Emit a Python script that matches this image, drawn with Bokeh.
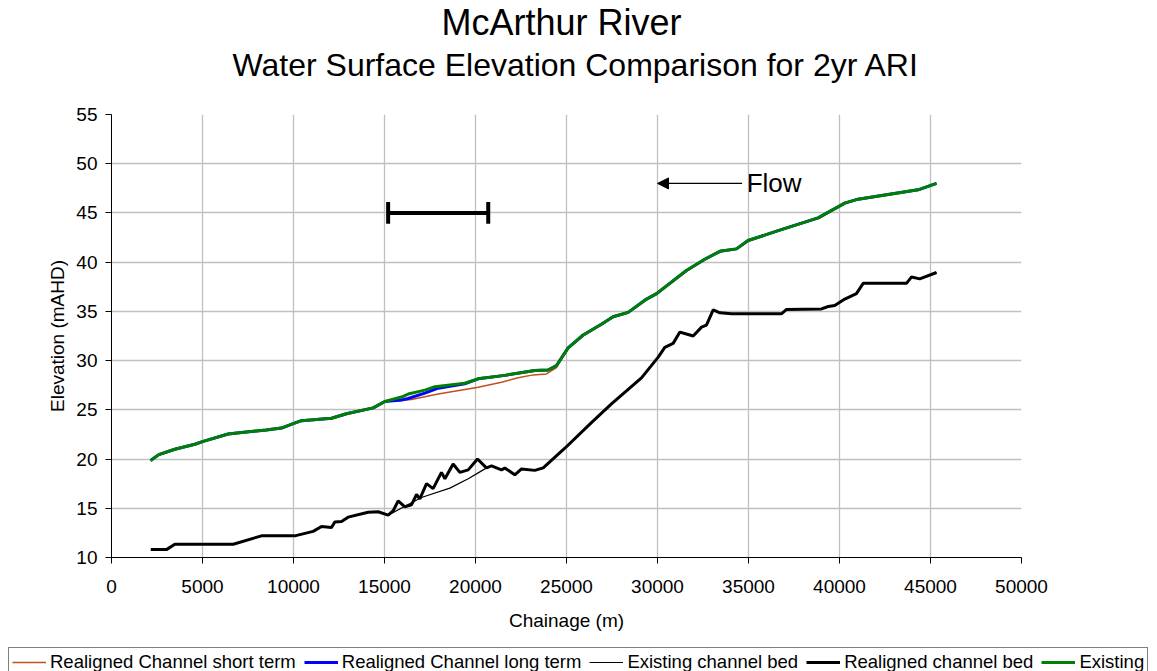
from bokeh.plotting import figure
from bokeh.layouts import column
from bokeh.models import (Range1d, FixedTicker, Title, Legend, LegendItem, Arrow,
                          NormalHead, Label)
from bokeh.embed import file_html
from bokeh.resources import INLINE

# ---------------- data ----------------
existing_x = [2150, 2600, 3480, 4580, 5040, 6410, 7140, 8500, 9340, 9980, 10440, 12090,
              12910, 14380, 15020, 15930, 16300, 17220, 17770, 19410, 20140, 21610,
              23260, 23990, 24450, 25090, 25920, 26920, 27560, 28390, 29400, 29950,
              31590, 32600, 33430, 34340, 34980, 36630, 38830, 40290, 41020, 44320, 45330]
existing_y = [19.85, 20.45, 21.0, 21.5, 21.8, 22.55, 22.7, 22.95, 23.15, 23.6, 23.9, 24.15,
              24.6, 25.2, 25.85, 26.3, 26.6, 27.0, 27.35, 27.7, 28.15, 28.5,
              29.0, 29.05, 29.5, 31.3, 32.6, 33.7, 34.45, 34.9, 36.25, 36.8,
              39.15, 40.3, 41.1, 41.35, 42.2, 43.2, 44.5, 46.0, 46.4, 47.35, 48.0]

long_x = [2150, 2600, 3480, 4580, 5040, 6410, 7140, 8500, 9340, 9980, 10440, 12090,
          12910, 14380, 15020, 15930, 16300, 17220, 17950, 19410, 20140, 21610,
          23260, 23990, 24450, 25090, 25920, 26920, 27560, 28390, 29400, 29950,
          31590, 32600, 33430, 34340, 34980, 36630, 38830, 40290, 41020, 44320, 45330]
long_y = [19.85, 20.45, 21.0, 21.5, 21.8, 22.55, 22.7, 22.95, 23.15, 23.6, 23.9, 24.15,
          24.6, 25.2, 25.85, 26.0, 26.15, 26.7, 27.2, 27.65, 28.15, 28.5,
          29.0, 29.05, 29.5, 31.3, 32.6, 33.7, 34.45, 34.9, 36.25, 36.8,
          39.15, 40.3, 41.1, 41.35, 42.2, 43.2, 44.5, 46.0, 46.4, 47.35, 48.0]

short_x = [2150, 2600, 3480, 4580, 5040, 6410, 7140, 8500, 9340, 9980, 10440, 12090,
           12910, 14380, 15020, 15930, 16480, 17950, 20150, 21430, 22340, 23170,
           23900, 24450, 25090, 25920, 26920, 27560, 28390, 29400, 29950,
           31590, 32600, 33430, 34340, 34980, 36630, 38830, 40290, 41020, 44320, 45330]
short_y = [19.85, 20.45, 21.0, 21.5, 21.8, 22.55, 22.7, 22.95, 23.15, 23.6, 23.9, 24.15,
           24.6, 25.2, 25.85, 25.95, 26.05, 26.6, 27.3, 27.8, 28.25, 28.55,
           28.65, 29.3, 31.3, 32.6, 33.7, 34.45, 34.9, 36.25, 36.8,
           39.15, 40.3, 41.1, 41.35, 42.2, 43.2, 44.5, 46.0, 46.4, 47.35, 48.0]

realigned_bed_x = [2160, 3020, 3480, 6690, 8240, 10070, 11080, 11540, 12090, 12270, 12640,
                   13000, 14100, 14650, 15200, 15480, 15750, 16120, 16480, 16760, 16940,
                   17310, 17670, 18130, 18320, 18770, 19140, 19600, 20110, 20600, 20880,
                   21430, 21610, 22160, 22530, 23260, 23720, 24910, 26370, 27470, 29120,
                   30040, 30400, 30860, 31230, 31590, 31960, 32420, 32690, 33060, 33430,
                   34070, 36810, 37090, 39010, 39380, 39740, 40290, 40930, 41300, 43680,
                   43960, 44410, 45330]
realigned_bed_y = [10.8, 10.8, 11.35, 11.35, 12.2, 12.2, 12.65, 13.15, 13.05, 13.6, 13.65,
                   14.1, 14.6, 14.65, 14.3, 14.75, 15.75, 15.15, 15.35, 16.4, 15.95,
                   17.5, 17.0, 18.65, 18.0, 19.5, 18.65, 18.9, 20.0, 19.1, 19.3,
                   18.9, 19.1, 18.4, 19.0, 18.85, 19.1, 21.1, 23.7, 25.6, 28.25,
                   30.35, 31.35, 31.75, 32.9, 32.7, 32.5, 33.4, 33.6, 35.15, 34.85,
                   34.75, 34.75, 35.2, 35.25, 35.5, 35.6, 36.25, 36.8, 37.85, 37.85,
                   38.5, 38.3, 38.95]

existing_bed_x = [2160, 3020, 3480, 6690, 8240, 10070, 11080, 11540, 12090, 12270, 12640,
                  13000, 14100, 14650, 15200, 16120, 17030, 18590, 19600, 20330, 20600,
                  20880, 21430, 21610, 22160, 22530, 23260, 23720, 24910, 26370, 27470,
                  29120, 30040, 30400, 30860, 31230, 31590, 31960, 32420, 32690, 33060,
                  33430, 34070, 36810, 37090, 39010, 39380, 39740, 40290, 40930, 41300,
                  43680, 43960, 44410, 45330]
existing_bed_y = [10.8, 10.8, 11.35, 11.35, 12.2, 12.2, 12.65, 13.15, 13.05, 13.6, 13.65,
                  14.1, 14.6, 14.65, 14.3, 15.2, 16.1, 17.05, 18.0, 18.8, 19.1,
                  19.3, 18.9, 19.1, 18.4, 19.0, 18.85, 19.1, 21.1, 23.7, 25.6,
                  28.25, 30.35, 31.35, 31.75, 32.9, 32.7, 32.5, 33.4, 33.6, 35.15,
                  34.85, 34.75, 34.75, 35.2, 35.25, 35.5, 35.6, 36.25, 36.8, 37.85,
                  37.85, 38.5, 38.3, 38.95]

# realigned reach marker
reach_start = 15200
reach_end = 20700
reach_level = 45.0
reach_cap = 1.1

# flow arrow
flow_tail_x = 34650
flow_head_x = 30000
flow_level = 48.0

x_ticks = [0, 5000, 10000, 15000, 20000, 25000, 30000, 35000, 40000, 45000, 50000]
y_ticks = [10, 15, 20, 25, 30, 35, 40, 45, 50, 55]

title_line1 = "McArthur River"
title_line2 = "Water Surface Elevation Comparison for 2yr ARI"

series_labels = ["Realigned Channel short term", "Realigned Channel long term",
                 "Existing channel bed", "Realigned channel bed", "Existing"]
series_colors = ["#C0501E", "#0000FF", "black", "black", "#008000"]
series_widths = [1.5, 3, 1.2, 3, 3]

FONT = "Liberation Sans"

# ---------------- main figure ----------------
p = figure(width=1157, height=647, output_backend="svg", toolbar_location=None,
           x_range=Range1d(0, 50000), y_range=Range1d(10, 55),
           min_border_left=111, min_border_right=136, min_border_bottom=90,
           min_border_top=114)
p.outline_line_color = None
p.background_fill_color = "white"
p.border_fill_color = "white"

# spacer between the frame and the second title line
gap = Title(text=" ", text_font=FONT, text_font_size="10px", standoff=12)
p.add_layout(gap, "above")
t2 = Title(text=title_line2, align="left", offset=121, text_font=FONT,
           text_font_size="32px", text_font_style="normal", text_color="black",
           standoff=14)
p.add_layout(t2, "above")
t1 = Title(text=title_line1, align="left", offset=330, text_font=FONT,
           text_font_size="36px", text_font_style="normal", text_color="black",
           standoff=-10)
p.add_layout(t1, "above")

for ax in (p.xaxis[0], p.yaxis[0]):
    ax.axis_line_color = "black"
    ax.axis_line_width = 1
    ax.major_tick_line_color = "black"
    ax.major_tick_out = 6
    ax.major_tick_in = 0
    ax.minor_tick_line_color = None
    ax.major_label_text_font = FONT
    ax.major_label_text_font_size = "19px"
    ax.major_label_text_color = "black"
    ax.axis_label_text_font = FONT
    ax.axis_label_text_font_size = "19px"
    ax.axis_label_text_font_style = "normal"
    ax.axis_label_text_color = "black"

p.xaxis.ticker = FixedTicker(ticks=x_ticks)
p.yaxis.ticker = FixedTicker(ticks=y_ticks)
p.xaxis.axis_label = "Chainage (m)"
p.yaxis.axis_label = "Elevation (mAHD)"
p.xaxis.major_label_standoff = 16
p.xaxis.axis_label_standoff = 14
p.yaxis.major_label_standoff = 8
p.yaxis.axis_label_standoff = 5

for g in (p.xgrid[0], p.ygrid[0]):
    g.grid_line_color = "#c0c0c0"
    g.grid_line_width = 1.3

# ---------------- series ----------------
p.line(short_x, short_y, line_color=series_colors[0], line_width=series_widths[0])
p.line(long_x, long_y, line_color=series_colors[1], line_width=series_widths[1])
p.line(existing_bed_x, existing_bed_y, line_color=series_colors[2], line_width=series_widths[2])
p.line(realigned_bed_x, realigned_bed_y, line_color=series_colors[3], line_width=series_widths[3])
p.line(existing_x, existing_y, line_color=series_colors[4], line_width=series_widths[4])

# reach marker
p.line([reach_start, reach_end], [reach_level, reach_level], line_color="black", line_width=4)
p.segment(x0=[reach_start, reach_end], y0=[reach_level - reach_cap] * 2,
          x1=[reach_start, reach_end], y1=[reach_level + reach_cap] * 2,
          line_color="black", line_width=4)

# flow arrow and text
p.add_layout(Arrow(end=NormalHead(size=11, fill_color="black", line_color="black"),
                   x_start=flow_tail_x, y_start=flow_level, x_end=flow_head_x,
                   y_end=flow_level, line_color="black", line_width=1.3))
p.add_layout(Label(x=flow_tail_x + 250, y=flow_level, text="Flow", text_font=FONT,
                   text_font_size="26px", text_baseline="middle", text_color="black"))

# ---------------- legend strip ----------------
lg = figure(width=1157, height=24, output_backend="svg", toolbar_location=None,
            x_axis_location=None, y_axis_location=None,
            x_range=Range1d(0, 1), y_range=Range1d(0, 1),
            min_border_left=8, min_border_right=7, min_border_top=0, min_border_bottom=0)
lg.frame_align = False
lg.outline_line_color = None
lg.grid.visible = False
items = []
for lab, col, w in zip(series_labels, series_colors, series_widths):
    # legend proxies, kept outside the visible range
    r = lg.line([-2, -1], [-2, -2], line_color=col, line_width=w)
    items.append(LegendItem(label=lab, renderers=[r]))
legend = Legend(items=items, orientation="horizontal", location="top_left")
legend.label_text_font = FONT
legend.label_text_font_size = "18.5px"
legend.label_text_color = "black"
legend.glyph_width = 34
legend.glyph_height = 18
legend.label_standoff = 4
legend.spacing = 8
legend.padding = 3
legend.margin = 0
legend.border_line_color = "black"
legend.border_line_width = 1
legend.background_fill_alpha = 1
lg.add_layout(legend, "center")

layout = column(p, lg, spacing=0)
open("out.html", "w").write(file_html(layout, INLINE))
